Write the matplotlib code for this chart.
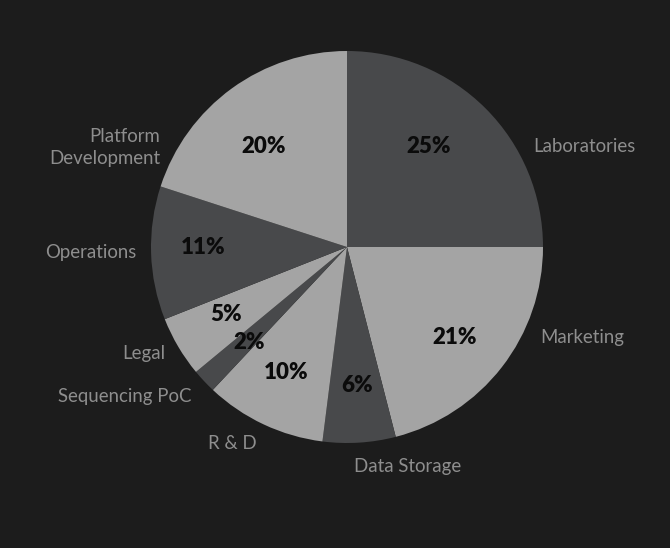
import matplotlib
matplotlib.use('Agg')
import matplotlib.pyplot as plt

# data
categories = ['Laboratories', 'Marketing', 'Data Storage', 'R & D',
              'Sequencing PoC', 'Legal', 'Operations', 'Platform\nDevelopment']
shares = [25, 21, 6, 10, 2, 5, 11, 20]

# label placement (pie units) and alignment
label_pos = [(0.949, 0.514), (0.985, -0.461), (0.311, -1.119), (-0.587, -1.002),
             (-0.791, -0.762), (-0.929, -0.543), (-1.077, -0.027), (-0.954, 0.508)]
label_ha = ['left', 'left', 'center', 'center', 'right', 'right', 'right', 'right']
pct_pos = [(0.418, 0.515), (0.551, -0.464), (0.051, -0.709), (-0.311, -0.638),
           (-0.5, -0.485), (-0.617, -0.342), (-0.735, 0.0), (-0.423, 0.515)]

bg = '#1c1c1c'
dark = '#48494b'
light = '#a4a4a4'
colors = [dark, light] * 4

fig = plt.figure(figsize=(6.7, 5.48), dpi=100, facecolor=bg)
ax = fig.add_axes([0, 0, 1, 1])
ax.set_facecolor(bg)

wedges, texts, autotexts = ax.pie(
    shares, labels=categories, colors=colors, startangle=90, counterclock=False,
    autopct='%d%%', pctdistance=0.7, radius=1,
    wedgeprops={'linewidth': 0},
    textprops={'family': 'Lato', 'fontsize': 13.4, 'color': '#8e8e8e'})

for t, (x, y), ha in zip(texts, label_pos, label_ha):
    t.set_position((x, y))
    t.set_ha(ha)
    t.set_va('center')
    t.set_multialignment('right' if ha == 'right' else 'center')
    t.set_linespacing(1.3)

for t, (x, y) in zip(autotexts, pct_pos):
    t.set_position((x, y))
    t.set_color('#0b0b0b')
    t.set_fontsize(16)
    t.set_fontweight('heavy')
    t.set_family('Lato')

ax.set_xlim(-347 / 196, 323 / 196)
ax.set_ylim(-301 / 196, 247 / 196)
ax.set_aspect('auto')
ax.axis('off')

fig.savefig('out.png', dpi=100, facecolor=bg)
